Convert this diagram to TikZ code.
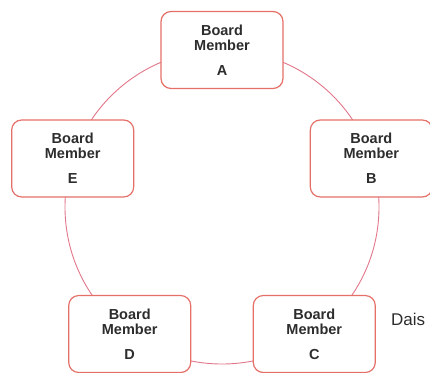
\documentclass[tikz,border=0pt]{standalone}
\usepackage{fontspec}
\setmainfont{Liberation Sans}
\usepackage{tikz}
\usetikzlibrary{calc}
\definecolor{boxcol}{RGB}{229,112,104}
\definecolor{linkcol}{RGB}{226,118,138}
\definecolor{txtcol}{RGB}{45,45,45}
\tikzset{
member/.style={draw=boxcol,line width=1.2pt,fill=white,rounded corners=10pt,minimum width=122pt,minimum height=77pt,inner sep=0pt,align=center,text=txtcol,font=\fontsize{14.5pt}{15pt}\selectfont\bfseries},
link/.style={draw=linkcol,line width=0.9pt}
}
\begin{document}
\begin{tikzpicture}[x=1pt,y=1pt]
\useasboundingbox (0,0) rectangle (430,372);
\coordinate (ctr) at (222,165);
\draw[link] (ctr) circle (157pt);
\foreach \n/\a in {A/90,B/18,C/-54,D/-126,E/162} {
\node[member] (\n) at ($(ctr)+(\a:157pt)$) {Board\\Member\\[10pt]\n};}
\node[anchor=base west,inner sep=0pt,text=txtcol,font=\fontsize{17pt}{19pt}\selectfont] (dais) at (391,47) {Dais};
\end{tikzpicture}
\end{document}
